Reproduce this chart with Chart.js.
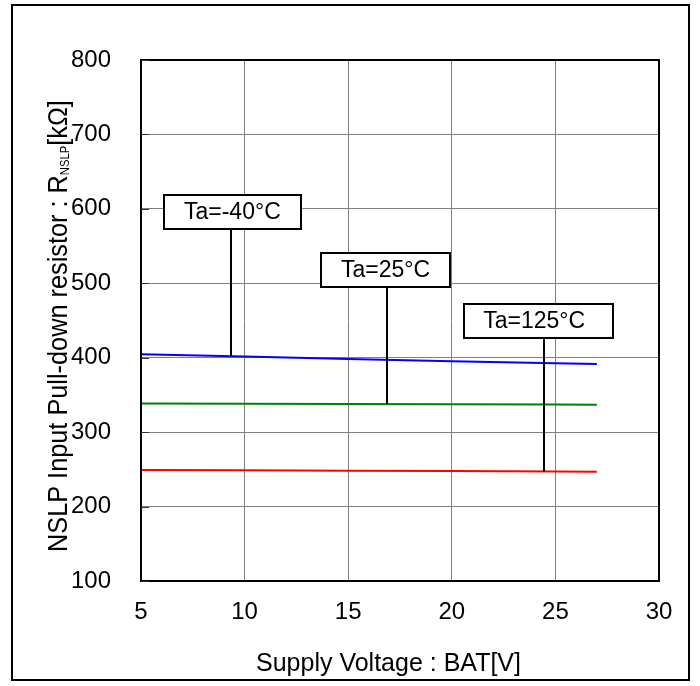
<!DOCTYPE html>
<html>
<head>
<meta charset="utf-8"/>
<style>
  body { margin: 0; padding: 0; background: #ffffff; }
  #wrap { width: 700px; height: 686px; }
</style>
</head>
<body>
<div id="wrap"><canvas id="c" width="700" height="686"></canvas></div>
<script src="https://cdn.jsdelivr.net/npm/chart.js@4.4.0/dist/chart.umd.min.js"></script>
<script>
// supply voltage BAT [V]
var voltage = [5, 10, 15, 20, 25, 27];
// pull-down resistance [kOhm] per temperature
var rMinus40 = [404.8, 401.5, 398.3, 395.2, 392.5, 391.4];
var r25 = [338.5, 338.2, 337.8, 337.4, 337.0, 336.8];
var r125 = [249.1, 248.7, 248.2, 247.7, 247.1, 246.9];

var xTicks = [5, 10, 15, 20, 25, 30];
var yTicks = [100, 200, 300, 400, 500, 600, 700, 800];

// callout labels (data units)
var labelText = ['Ta=-40°C', 'Ta=25°C', 'Ta=125°C'];
var labelLeaderX = [9.34, 16.85, 24.45];
var labelBoxX = [9.41, 16.8, 24.17];
var labelTopY = [618.7, 541.3, 472.4];
var labelTipY = [402.6, 338.0, 247.2];

var xTitle = 'Supply Voltage : BAT[V]';

var FONT = '"Liberation Sans", Arial, sans-serif';
var calloutPad = [40, 40, 47];
Chart.defaults.font.family = FONT;
Chart.defaults.color = '#000000';

function pts(ys) {
  return voltage.map(function (v, i) { return { x: v, y: ys[i] }; });
}

var framePlugin = {
  id: 'frame',
  afterDraw: function (chart) {
    var ctx = chart.ctx, a = chart.chartArea;
    ctx.save();
    ctx.strokeStyle = '#000';
    ctx.lineWidth = 2;
    ctx.strokeRect(12, 5, 677, 675);
    ctx.strokeRect(a.left, a.top, a.right - a.left, a.bottom - a.top);
    // short inward ticks on the y axis
    var ys = chart.scales.y;
    ctx.lineWidth = 1;
    ctx.strokeStyle = '#333';
    yTicks.forEach(function (v) {
      var py = Math.round(ys.getPixelForValue(v)) + 0.5;
      ctx.beginPath();
      ctx.moveTo(a.left, py);
      ctx.lineTo(a.left + 8, py);
      ctx.stroke();
    });
    ctx.restore();
  }
};

var calloutPlugin = {
  id: 'callouts',
  afterDatasetsDraw: function (chart) {
    var ctx = chart.ctx, xs = chart.scales.x, ys = chart.scales.y;
    var boxH = 34;
    ctx.save();
    ctx.font = '23px ' + FONT;
    labelText.forEach(function (t, i) {
      var lx = Math.round(xs.getPixelForValue(labelLeaderX[i]));
      var top = Math.round(ys.getPixelForValue(labelTopY[i]));
      var tip = ys.getPixelForValue(labelTipY[i]);
      var cx = xs.getPixelForValue(labelBoxX[i]);
      var w = Math.round(ctx.measureText(t).width + calloutPad[i]);
      ctx.strokeStyle = '#000';
      ctx.lineWidth = 2;
      ctx.beginPath();
      ctx.moveTo(lx, top + boxH);
      ctx.lineTo(lx, tip);
      ctx.stroke();
      var bx = Math.round(cx - w / 2);
      ctx.fillStyle = '#fff';
      ctx.fillRect(bx, top, w, boxH);
      ctx.strokeRect(bx, top, w, boxH);
      ctx.fillStyle = '#000';
      ctx.textAlign = 'center';
      ctx.textBaseline = 'middle';
      ctx.fillText(t, cx - (i === 2 ? 4 : 0), top + boxH / 2 + 1);
    });
    ctx.restore();
  }
};

var titlePlugin = {
  id: 'axisTitles',
  afterDraw: function (chart) {
    var ctx = chart.ctx;
    ctx.save();
    ctx.fillStyle = '#000';
    // x title
    ctx.font = '25px ' + FONT;
    ctx.textAlign = 'center';
    ctx.textBaseline = 'alphabetic';
    ctx.fillText(xTitle, 388.5, 671);
    // y title with subscript
    ctx.translate(67, 552);
    ctx.rotate(-Math.PI / 2);
    ctx.scale(0.937, 1);
    ctx.textAlign = 'left';
    var main = 'NSLP Input Pull-down resistor : R';
    ctx.font = '27px ' + FONT;
    ctx.fillText(main, 0, 0);
    var x = ctx.measureText(main).width;
    ctx.font = '12px ' + FONT;
    ctx.fillText('NSLP', x, 2);
    x += ctx.measureText('NSLP').width;
    ctx.font = '27px ' + FONT;
    ctx.fillText('[kΩ]', x, 0);
    ctx.restore();
  }
};

new Chart(document.getElementById('c'), {
  type: 'line',
  data: {
    datasets: [
      { label: 'Ta=-40°C', data: pts(rMinus40), borderColor: '#0000ff', borderWidth: 2, pointRadius: 0, fill: false },
      { label: 'Ta=25°C', data: pts(r25), borderColor: '#008000', borderWidth: 2, pointRadius: 0, fill: false },
      { label: 'Ta=125°C', data: pts(r125), borderColor: '#ff0000', borderWidth: 2, pointRadius: 0, fill: false }
    ]
  },
  options: {
    responsive: false,
    animation: false,
    devicePixelRatio: 1,
    layout: { padding: { left: 0, top: 60, right: 41, bottom: 0 } },
    plugins: { legend: { display: false }, tooltip: { enabled: false } },
    scales: {
      x: {
        type: 'linear',
        min: 5, max: 30,
        afterBuildTicks: function (s) { s.ticks = xTicks.map(function (v) { return { value: v }; }); },
        afterFit: function (s) { s.height = 105; },
        grid: { color: '#808080', lineWidth: 1, drawTicks: false },
        border: { display: false },
        ticks: { font: { size: 24 }, color: '#000', padding: 17, maxRotation: 0 }
      },
      y: {
        type: 'linear',
        min: 100, max: 800,
        afterBuildTicks: function (s) { s.ticks = yTicks.map(function (v) { return { value: v }; }); },
        afterFit: function (s) { s.width = 141; },
        grid: { color: '#808080', lineWidth: 1, drawTicks: false },
        border: { display: false },
        ticks: { font: { size: 24 }, color: '#000', padding: 30 }
      }
    }
  },
  plugins: [calloutPlugin, framePlugin, titlePlugin]
});
</script>
</body>
</html>
